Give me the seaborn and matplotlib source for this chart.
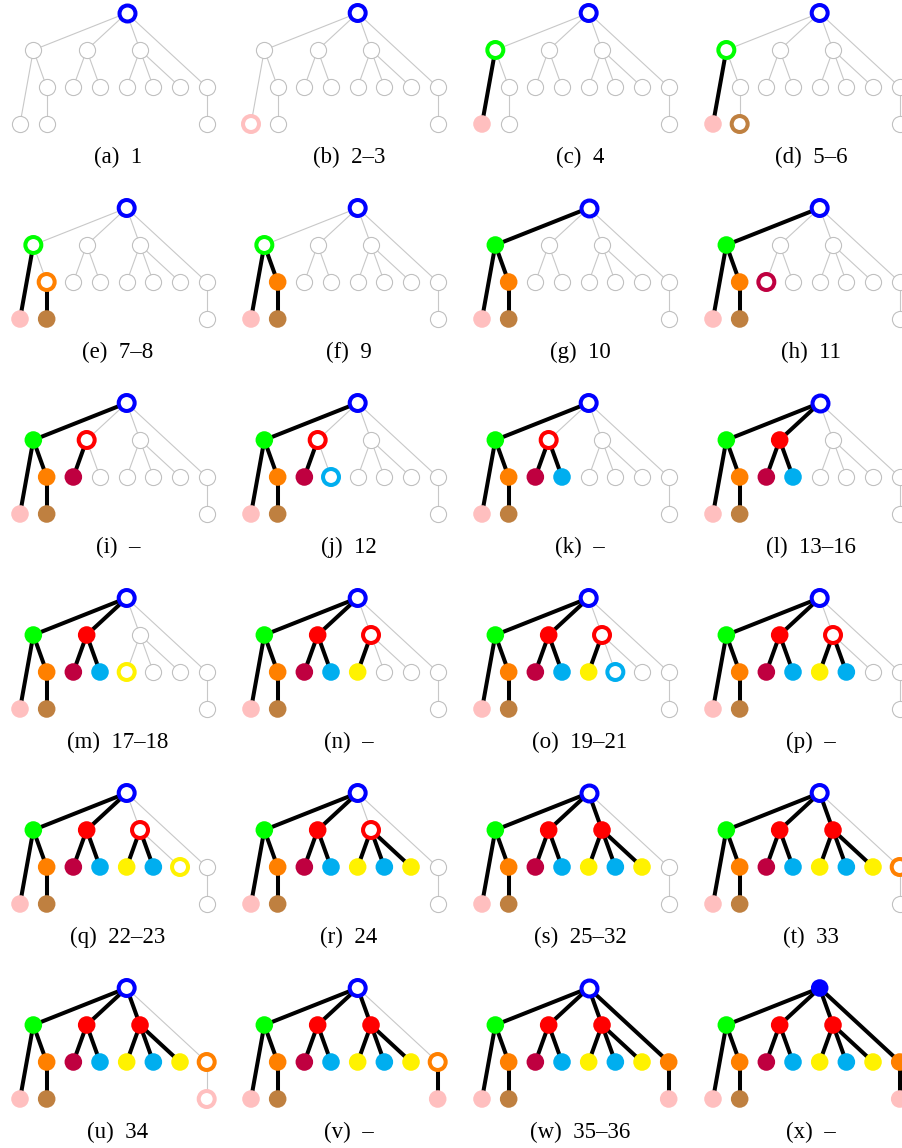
import matplotlib
matplotlib.use("Agg")
import matplotlib.pyplot as plt
import seaborn as sns
import pandas as pd

# tree: node name, horizontal slot, depth, parent, colour
names = ["R", "A", "L1", "D", "E", "B", "B1", "B2", "C", "C1", "C2", "C3", "H", "H1"]
slots = [4.0, 0.5, 0.0, 1.0, 1.0, 2.5, 2.0, 3.0, 4.5, 4.0, 5.0, 6.0, 7.0, 7.0]
depths = [0, 1, 3, 2, 3, 1, 2, 2, 1, 2, 2, 2, 2, 3]
parents = [None, "R", "A", "A", "D", "R", "B", "B", "R", "C", "C", "C", "R", "H"]
colors = ["#0000ff", "#00ff00", "#ffbfbf", "#ff8000", "#bf8040", "#ff0000", "#bf0040",
          "#00aeef", "#ff0000", "#fff200", "#00aeef", "#fff200", "#ff8000", "#ffbfbf"]

# per panel state of each node: g = unvisited, o = current (ring), f = finished
captions = ["(a)  1", "(b)  2\u20133", "(c)  4", "(d)  5\u20136",
            "(e)  7\u20138", "(f)  9", "(g)  10", "(h)  11",
            "(i)  \u2013", "(j)  12", "(k)  \u2013", "(l)  13\u201316",
            "(m)  17\u201318", "(n)  \u2013", "(o)  19\u201321", "(p)  \u2013",
            "(q)  22\u201323", "(r)  24", "(s)  25\u201332", "(t)  33",
            "(u)  34", "(v)  \u2013", "(w)  35\u201336", "(x)  \u2013"]
states = [
    "oggggggggggggg",
    "ogoggggggggggg",
    "oofggggggggggg",
    "oofgoggggggggg",
    "oofofggggggggg",
    "oofffggggggggg",
    "offffggggggggg",
    "offffgoggggggg",
    "offffofggggggg",
    "offffofogggggg",
    "offffoffgggggg",
    "offfffffgggggg",
    "offfffffgogggg",
    "offfffffofgggg",
    "offfffffofoggg",
    "offfffffoffggg",
    "offfffffoffogg",
    "offfffffofffgg",
    "offfffffffffgg",
    "offfffffffffog",
    "offfffffffffoo",
    "offfffffffffof",
    "offfffffffffff",
    "ffffffffffffff",
]

nodes = pd.DataFrame({"name": names, "x": slots, "y": depths,
                      "parent": parents, "color": colors})
palette = dict(zip(names, colors))
pos = {n: (x, y) for n, x, y in zip(names, slots, depths)}

sns.set_theme(style="white")
plt.rcParams["font.family"] = ["Liberation Serif", "DejaVu Serif"]

W, H = 903, 1148
fig = plt.figure(figsize=(W / 100, H / 100), dpi=100)

col_w, row_h = 231, 195
sx, sy = 26.67, 37.0      # pixels per slot / per depth level
x0, y0 = 20, 13           # pixel offset of slot 0 / depth 0 inside a panel

for i, (cap, st) in enumerate(zip(captions, states)):
    r, c = divmod(i, 4)
    left, top = c * col_w, r * row_h
    ax = fig.add_axes([left / W, 1 - (top + row_h) / H, col_w / W, row_h / H])
    ax.set_xlim(-x0 / sx, (col_w - x0) / sx)
    ax.set_ylim((row_h - y0) / sy, -y0 / sy)
    ax.axis("off")

    state = dict(zip(names, st))

    # edges
    for n, p in zip(names, parents):
        if p is None:
            continue
        black = state[n] == "f" and state[p] != "g"
        (xa, ya), (xb, yb) = pos[n], pos[p]
        ax.plot([xa, xb], [ya, yb],
                color="black" if black else "#c8c8c8",
                lw=2.9 if black else 0.8, zorder=1, solid_capstyle="butt")

    df = nodes.assign(state=[state[n] for n in names])

    gray = df[df.state == "g"]
    if len(gray):
        sns.scatterplot(data=gray, x="x", y="y", ax=ax, color="white",
                        edgecolor="#c0c0c0", linewidth=0.8, s=135,
                        zorder=3, clip_on=False, legend=False)

    done = df[df.state == "f"]
    if len(done):
        sns.scatterplot(data=done, x="x", y="y", hue="name", palette=palette,
                        ax=ax, edgecolor="none", s=160, zorder=3,
                        clip_on=False, legend=False)

    ring = df[df.state == "o"]
    if len(ring):
        ax.scatter(ring.x, ring.y, s=132, facecolors="white",
                   edgecolors=ring.color.tolist(), linewidths=2.9,
                   zorder=4, clip_on=False)

    ax.text(3.67, 144 / sy, cap, ha="center", va="center",
            fontsize=16.5, color="black")

fig.savefig("out.png", dpi=100)
